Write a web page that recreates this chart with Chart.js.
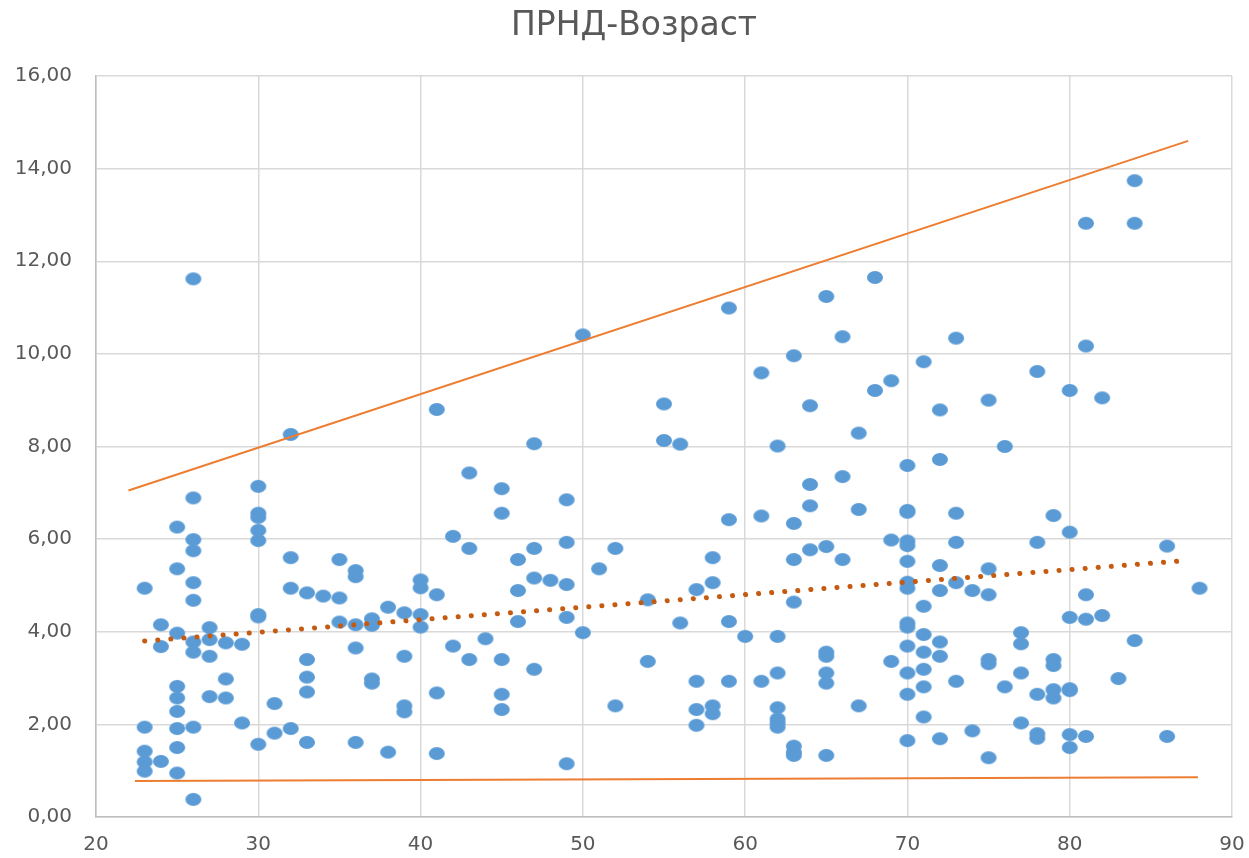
<!DOCTYPE html>
<html>
<head>
<meta charset="utf-8">
<script src="https://cdn.jsdelivr.net/npm/chart.js@4.4.1/dist/chart.umd.min.js"></script>
<style>
    html, body { margin: 0; padding: 0; background: #fff; }
    #wrap { width: 1249px; height: 858px; }
</style>
</head>
<body>
<div id="wrap"><canvas id="chart" width="1249" height="858"></canvas></div>
<script>
    const chartTitle = 'ПРНД-Возраст';

    // ages (x) and the ПРНД values read for each age (y)
    const ages = [23, 24, 25, 26, 27, 28, 29, 30, 31, 32, 33, 34, 35, 36, 37, 38, 39, 40,
        41, 42, 43, 44, 45, 46, 47, 48, 49, 50, 51, 52, 54, 55, 56, 57, 58, 59, 60,
        61, 62, 63, 64, 65, 66, 67, 68, 69, 70, 71, 72, 73, 74, 75, 76, 77, 78, 79, 80,
        81, 82, 83, 84, 86, 88];

    const prndByAge = [
        [4.94, 1.94, 1.42, 1.19, 0.99],
        [4.15, 3.68, 1.20],
        [6.26, 5.36, 3.97, 2.82, 2.57, 2.28, 1.91, 1.50, 0.95],
        [11.62, 6.89, 5.99, 5.75, 5.06, 4.68, 3.78, 3.56, 1.94, 0.38],
        [4.09, 3.83, 3.47, 2.60],
        [3.76, 2.98, 2.57],
        [3.73, 2.03],
        [7.14, 6.56, 6.47, 6.19, 5.97, 4.37, 4.32, 1.57],
        [2.45, 1.81],
        [8.26, 5.60, 4.94, 1.91],
        [4.84, 3.40, 3.02, 2.70, 1.61],
        [4.77],
        [5.56, 4.73, 4.21],
        [5.32, 5.19, 4.15, 3.65, 1.61],
        [4.28, 4.14, 2.98, 2.89],
        [4.53, 1.40],
        [4.41, 3.47, 2.40, 2.27],
        [5.12, 4.95, 4.37, 4.10],
        [8.80, 4.80, 2.68, 1.37],
        [6.06, 3.69],
        [7.43, 5.80, 3.40],
        [3.85],
        [7.09, 6.56, 3.40, 2.65, 2.32],
        [5.56, 4.89, 4.22],
        [8.06, 5.80, 5.16, 3.19],
        [5.11],
        [6.85, 5.93, 5.02, 4.31, 1.15],
        [10.41, 3.98],
        [5.36],
        [5.80, 2.40],
        [4.69, 3.36],
        [8.92, 8.13],
        [8.05, 4.19],
        [4.91, 2.93, 2.32, 1.98],
        [5.60, 5.06, 2.40, 2.23],
        [10.99, 6.42, 4.22, 2.93],
        [3.90],
        [9.59, 6.50, 2.93],
        [8.01, 3.90, 3.11, 2.36, 2.12, 2.03, 1.94],
        [9.96, 6.34, 5.56, 4.64, 1.53, 1.40, 1.33],
        [8.88, 7.18, 6.72, 5.77],
        [11.24, 5.84, 3.56, 3.47, 3.11, 2.89, 1.33],
        [10.37, 7.35, 5.56],
        [8.29, 6.64, 2.40],
        [11.65, 9.21],
        [9.42, 5.98, 3.36],
        [7.59, 6.62, 6.58, 5.96, 5.86, 5.52, 5.07, 4.94, 4.19, 4.10, 3.69, 3.11, 2.65, 1.65],
        [9.83, 4.55, 3.94, 3.56, 3.19, 2.81, 2.16],
        [8.79, 7.72, 5.43, 4.89, 3.78, 3.47, 1.69],
        [10.34, 6.56, 5.93, 5.06, 2.93],
        [4.89, 1.86],
        [9.00, 5.36, 4.80, 3.40, 3.31, 1.28],
        [8.00, 2.81],
        [3.98, 3.74, 3.11, 2.03],
        [9.62, 5.93, 2.65, 1.80, 1.70],
        [6.51, 3.40, 3.27, 2.75, 2.57],
        [9.21, 6.15, 4.31, 2.77, 2.73, 1.78, 1.50],
        [12.82, 10.17, 4.80, 4.27, 1.74],
        [9.05, 4.35],
        [2.99],
        [13.74, 12.82, 3.81],
        [5.85, 1.74],
        [4.94]
    ];

    // line end points
    const upperX = [22.0, 87.3];
    const upperY = [7.05, 14.60];
    const lowerX = [22.4, 87.9];
    const lowerY = [0.78, 0.86];
    const trendX = [23.0, 87.3];
    const trendY = [3.80, 5.54];

    function toPoints(xs, ys) {
        return xs.map((x, i) => ({ x, y: ys[i] }));
    }

    const scatterPoints = ages.reduce((acc, age, i) => {
        prndByAge[i].forEach(v => acc.push({ x: age, y: v }));
        return acc;
    }, []);

    // slightly wide ellipse marker like the original
    function makeDot() {
        const c = document.createElement('canvas');
        c.width = 18;
        c.height = 15;
        const g = c.getContext('2d');
        g.fillStyle = '#5B9BD5';
        g.beginPath();
        g.ellipse(9, 7.5, 8, 6.5, 0, 0, Math.PI * 2);
        g.fill();
        return c;
    }
    const dot = makeDot();

    const textColor = '#595959';
    const tickFont = { family: 'DejaVu Sans, sans-serif', size: 20 };

    // title drawn by hand so it can sit where the original has it
    const titlePlugin = {
        id: 'chartTitle',
        afterDraw(chart) {
            const ctx = chart.ctx;
            ctx.save();
            ctx.fillStyle = textColor;
            ctx.font = '33px "DejaVu Sans", sans-serif';
            ctx.textAlign = 'center';
            ctx.textBaseline = 'alphabetic';
            ctx.fillText(chartTitle, 634, 35);
            ctx.restore();
        }
    };

    new Chart(document.getElementById('chart').getContext('2d'), {
        type: 'scatter',
        data: {
            datasets: [
                {
                    label: 'upper',
                    data: toPoints(upperX, upperY),
                    showLine: true,
                    borderColor: '#ED7D31',
                    borderWidth: 2,
                    pointRadius: 0,
                    order: 0
                },
                {
                    label: 'lower',
                    data: toPoints(lowerX, lowerY),
                    showLine: true,
                    borderColor: '#ED7D31',
                    borderWidth: 2,
                    pointRadius: 0,
                    order: 0
                },
                {
                    label: 'trend',
                    data: toPoints(trendX, trendY),
                    showLine: true,
                    borderColor: '#C55A11',
                    borderWidth: 5,
                    borderDash: [0.1, 13],
                    borderCapStyle: 'round',
                    pointRadius: 0,
                    order: 0
                },
                {
                    label: 'ПРНД',
                    data: scatterPoints,
                    pointStyle: dot,
                    pointRadius: 8,
                    order: 1
                }
            ]
        },
        options: {
            responsive: false,
            animation: false,
            layout: { padding: { left: 0, right: 17, top: 76, bottom: 0 } },
            plugins: {
                legend: { display: false },
                tooltip: { enabled: false },
                title: { display: false }
            },
            scales: {
                x: {
                    type: 'linear',
                    min: 20,
                    max: 90,
                    ticks: { stepSize: 10, color: textColor, font: tickFont, padding: 16 },
                    grid: { color: '#d9d9d9', lineWidth: 1.5, drawTicks: false },
                    border: { color: '#bfbfbf', width: 1.5 },
                    afterFit: (scale) => {
                        scale.height = 41;
                        scale.paddingLeft = 0;
                        scale.paddingRight = 0;
                    }
                },
                y: {
                    min: 0,
                    max: 16,
                    ticks: {
                        stepSize: 2,
                        color: textColor,
                        font: tickFont,
                        padding: 24,
                        callback: (v) => v.toFixed(2).replace('.', ',')
                    },
                    grid: { color: '#d9d9d9', lineWidth: 1.5, drawTicks: false },
                    border: { color: '#bfbfbf', width: 1.5 },
                    afterFit: (scale) => {
                        scale.width = 96;
                        scale.paddingTop = 0;
                        scale.paddingBottom = 0;
                    }
                }
            }
        },
        plugins: [titlePlugin]
    });
</script>
</body>
</html>
